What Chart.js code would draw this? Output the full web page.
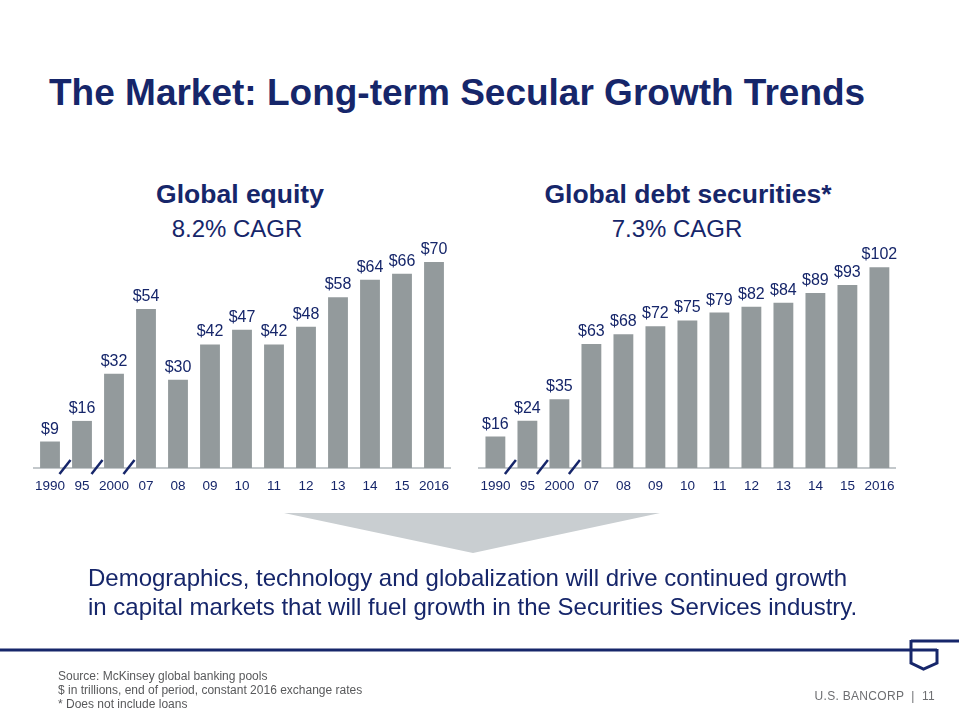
<!DOCTYPE html>
<html>
<head>
<meta charset="utf-8">
<script src="https://cdn.jsdelivr.net/npm/chart.js@4"></script>
<style>
  body { margin: 0; background: #fff; }
  #slide { position: relative; width: 960px; height: 720px; overflow: hidden; font-family: "Liberation Sans", Arial, sans-serif; color: #16266a; }
  .abs { position: absolute; white-space: nowrap; }
  #title { left: 49px; top: 72px; font-size: 37px; font-weight: bold; }
  .sub { font-size: 26.5px; font-weight: bold; text-align: center; width: 400px; }
  .cagr { font-size: 24px; text-align: center; width: 400px; }
  #body { left: 88px; top: 563px; font-size: 24px; line-height: 29px; }
  #src { left: 58px; top: 669px; font-size: 12px; line-height: 14px; color: #58595b; }
  #brand { right: 25px; top: 689px; font-size: 12px; letter-spacing: 0.3px; color: #6d6e71; }
  canvas { position: absolute; }
</style>
</head>
<body>
<div id="slide">
  <div id="title" class="abs">The Market: Long-term Secular Growth Trends</div>

  <div class="abs sub" style="left:40px; top:179px;">Global equity</div>
  <div class="abs cagr" style="left:37px; top:215px;">8.2% CAGR</div>
  <div class="abs sub" style="left:488px; top:179px;">Global debt securities*</div>
  <div class="abs cagr" style="left:477px; top:215px;">7.3% CAGR</div>

  <div class="abs" style="left:0; top:230px; width:470px; height:290px;"><canvas id="equity"></canvas></div>
  <div class="abs" style="left:470px; top:230px; width:490px; height:290px;"><canvas id="debt"></canvas></div>

  <svg class="abs" style="left:0; top:0;" width="960" height="720">
    <polygon points="284,513 660,513 473,553" fill="#c9ced1"/>
    <line x1="0" y1="650" x2="937" y2="650" stroke="#16266a" stroke-width="3"/>
    <polyline points="911,641 959,641" fill="none" stroke="#16266a" stroke-width="3"/>
    <polyline points="911,640 911,663 923.5,669 937,663 937,649" fill="none" stroke="#16266a" stroke-width="3"/>
  </svg>

  <div id="body" class="abs">Demographics, technology and globalization will drive continued growth<br>in capital markets that will fuel growth in the Securities Services industry.</div>

  <div id="src" class="abs">Source: McKinsey global banking pools<br>$ in trillions, end of period, constant 2016 exchange rates<br>* Does not include loans</div>
  <div id="brand" class="abs">U.S. BANCORP &nbsp;|&nbsp; 11</div>
</div>

<script>
const years = ['1990', '95', '2000', '07', '08', '09', '10', '11', '12', '13', '14', '15', '2016'];
const equityValues = [9, 16, 32, 54, 30, 42, 47, 42, 48, 58, 64, 66, 70];
const debtValues = [16, 24, 35, 63, 68, 72, 75, 79, 82, 84, 89, 93, 102];
// axis breaks sit between these category pairs
const breakAfter = [0, 1, 2];

const navy = '#16266a';
const barGrey = '#939a9c';

// value labels above each bar and the little break slashes on the axis
const slideMarks = {
  id: 'slideMarks',
  afterDatasetsDraw(chart) {
    const ctx = chart.ctx;
    const meta = chart.getDatasetMeta(0);
    const data = chart.data.datasets[0].data;
    ctx.save();
    ctx.fillStyle = navy;
    ctx.font = '16px "Liberation Sans", Arial, sans-serif';
    ctx.textAlign = 'center';
    ctx.textBaseline = 'alphabetic';
    meta.data.forEach((bar, i) => {
      ctx.fillText('$' + data[i], bar.x, bar.y - 8);
    });
    const xs = chart.scales.x;
    const base = chart.chartArea.bottom;
    ctx.strokeStyle = navy;
    ctx.lineWidth = 2.5;
    breakAfter.forEach(i => {
      const mx = (xs.getPixelForValue(i) + xs.getPixelForValue(i + 1)) / 2 - 1;
      ctx.beginPath();
      ctx.moveTo(mx - 5.5, base + 6);
      ctx.lineTo(mx + 5.5, base - 8);
      ctx.stroke();
    });
    ctx.restore();
  }
};

function makeChart(id, values, yMax, padLeft, padRight) {
  return new Chart(document.getElementById(id), {
    type: 'bar',
    plugins: [slideMarks],
    data: {
      labels: years,
      datasets: [{
        data: values,
        backgroundColor: barGrey,
        barPercentage: 0.62,
        categoryPercentage: 1
      }]
    },
    options: {
      responsive: true,
      maintainAspectRatio: false,
      animation: false,
      layout: { padding: { left: padLeft, right: padRight, top: 20, bottom: 20 } },
      plugins: { legend: { display: false }, tooltip: { enabled: false } },
      scales: {
        x: {
          grid: { display: false, drawTicks: false },
          border: { display: true, color: '#c3c8cb', width: 2 },
          ticks: {
            color: navy,
            padding: 10,
            font: { family: '"Liberation Sans", Arial, sans-serif', size: 13.5 },
            maxRotation: 0,
            autoSkip: false
          },
          afterFit: axis => { axis.height = 32; }
        },
        y: { display: false, min: 0, max: yMax }
      }
    }
  });
}

makeChart('equity', equityValues, 74.07, 34, 20);
makeChart('debt', debtValues, 110.8, 9.4, 64.6);
</script>
</body>
</html>
